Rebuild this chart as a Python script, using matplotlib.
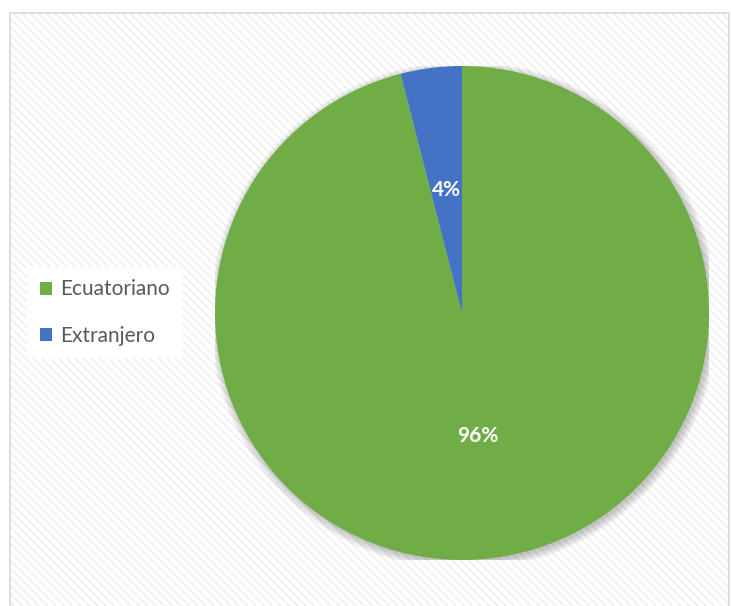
"""Pie chart: Ecuatoriano vs Extranjero share."""

import matplotlib.pyplot as plt
from matplotlib.patches import Circle, Patch, Rectangle

categories = ["Ecuatoriano", "Extranjero"]
shares = [96, 4]
colors = ["#70AD47", "#4472C4"]

W, H = 731, 606
plt.rcParams["font.family"] = ["Lato", "DejaVu Sans"]
plt.rcParams["hatch.linewidth"] = 1.1

fig = plt.figure(figsize=(W / 100, H / 100), dpi=100)
fig.patch.set_facecolor("white")

# chart area: hatched background with a light border
bg = Rectangle((10 / W, 0), 720 / W, (H - 13) / H, transform=fig.transFigure,
               facecolor="white", edgecolor="#efefef", linewidth=0,
               hatch="\\\\\\\\", zorder=-2)
fig.patches.append(bg)
border = Rectangle((10 / W, -0.01), 719 / W, (H - 13) / H + 0.01, transform=fig.transFigure,
                   facecolor="none", edgecolor="#d9d9d9", linewidth=1.2, zorder=-1)
fig.patches.append(border)

# pie axes: center (462, 313), radius 247 px
cx, cy, r = 462, 313, 247
ax = fig.add_axes([(cx - r) / W, (H - cy - r) / H, 2 * r / W, 2 * r / H])
ax.set_facecolor("none")
ax.set_zorder(1)

# soft shadow
for k in range(6):
    ax.add_patch(Circle((0.008, -0.01), 1.0 + 0.006 * k, facecolor="#000000",
                        alpha=0.04, edgecolor="none", zorder=0))

wedges, texts, autotexts = ax.pie(
    shares, colors=colors, startangle=90, counterclock=False,
    autopct=lambda p: f"{p:.0f}%", pctdistance=0.5, radius=1.0,
    wedgeprops=dict(edgecolor="none"),
    textprops=dict(color="white", fontsize=15, fontweight="bold"),
)
for w in wedges:
    w.set_zorder(2)
for t in autotexts:
    t.set_zorder(3)
ax.set_xlim(-1, 1)
ax.set_ylim(-1, 1)
ax.axis("off")

handles = [Patch(facecolor=c, edgecolor="none") for c in colors]
leg = fig.legend(
    handles, categories, loc="center left",
    bbox_to_anchor=(27 / W, 1 - 312.5 / H), borderaxespad=0,
    frameon=True, fancybox=False, facecolor="white", edgecolor="none", framealpha=1,
    fontsize=15, labelcolor="#595959", handlelength=0.6, handleheight=0.6,
    handletextpad=0.4, labelspacing=1.25, borderpad=0.6,
)
leg.set_zorder(5)

fig.savefig("out.png", dpi=100)
